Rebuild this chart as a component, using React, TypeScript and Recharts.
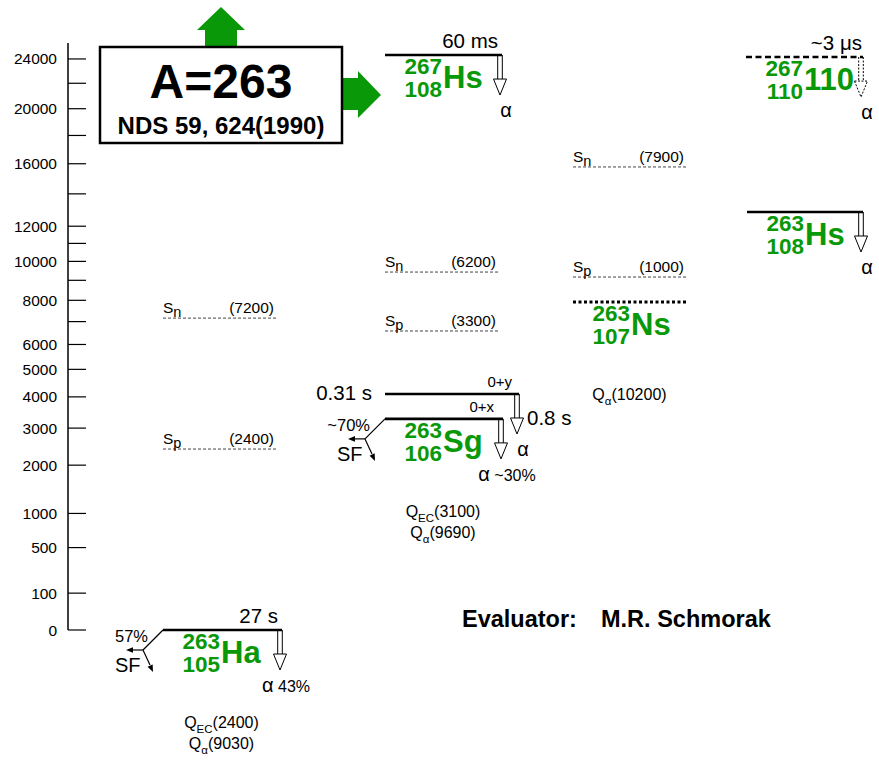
import React from "react";
import { ComposedChart, XAxis, YAxis, ReferenceLine, ReferenceDot } from "recharts";

const FONT = '"Liberation Sans", Arial, Helvetica, sans-serif';
const GREEN = "#089808";

// energy axis (keV), drawn on a sqrt scale
const Y_TICKS = [0, 100, 500, 1000, 2000, 3000, 4000, 5000, 6000, 7000, 8000, 9000, 10000, 11000, 12000, 14000, 16000, 18000, 20000, 22000, 24000];
const Y_LABELED = [0, 100, 500, 1000, 2000, 3000, 4000, 5000, 6000, 8000, 10000, 12000, 16000, 20000, 24000];

// levels
const LEVEL_IDS = ["Ha263", "Sg263x", "Sg263y", "Ns263", "Hs263", "Hs267", "X267"];
const LEVEL_ENERGY = [0, 3280, 4100, 7920, 12860, 24330, 24160];
const LEVEL_TAG = ["", "0+x", "0+y", "", "", "", ""];
const HALF_LIFE = ["27 s", "0.8 s", "0.31 s", "", "", "60 ms", "~3 μs"];

// nuclide labels
const NUC_LEVEL = ["Ha263", "Sg263x", "Ns263", "Hs263", "Hs267", "X267"];
const NUC_A = ["263", "263", "263", "263", "267", "267"];
const NUC_Z = ["105", "106", "107", "108", "108", "110"];
const NUC_SYMBOL = ["Ha", "Sg", "Ns", "Hs", "Hs", "110"];

// separation energies: label value and where the line sits
const SEP_LEVEL = ["Ha263", "Ha263", "Sg263x", "Sg263x", "Ns263", "Ns263"];
const SEP_KIND = ["n", "p", "n", "p", "n", "p"];
const SEP_VALUE = [7200, 2400, 6200, 3300, 7900, 1000];
const SEP_ENERGY = [7160, 2410, 9430, 6580, 15780, 9170];

// Q values
const Q_LEVEL = ["Ha263", "Ha263", "Sg263x", "Sg263x", "Ns263"];
const Q_KIND = ["EC", "α", "EC", "α", "α"];
const Q_VALUE = [2400, 9030, 3100, 9690, 10200];

// decay branches
const ALPHA_LEVEL = ["Ha263", "Sg263x", "Sg263y", "Hs263", "Hs267", "X267"];
const ALPHA_BRANCH = ["43%", "~30%", "", "", "", ""];
const SF_LEVEL = ["Ha263", "Sg263x"];
const SF_BRANCH = ["57%", "~70%"];

// layout (x in plot units) and looks
const LEVEL_SPAN: Record<string, [number, number]> = {
  Ha263: [163, 282],
  Sg263x: [385, 503],
  Sg263y: [385, 519],
  Ns263: [573, 688],
  Hs263: [747, 863],
  Hs267: [385, 502],
  X267: [746, 863],
};
const SEP_SPAN: Record<string, [number, number]> = {
  Ha263: [163, 278],
  Sg263x: [385, 500],
  Ns263: [573, 688],
};
const LEVEL_LOOK: Record<string, { w: number; dash?: string }> = {
  Ns263: { w: 3, dash: "3 2.5" },
  X267: { w: 2.6, dash: "6 3.5" },
};
const TAG_SHIFT: Record<string, number> = { Sg263x: -9, Sg263y: -7 };

const energyOf = (id: string) => LEVEL_ENERGY[LEVEL_IDS.indexOf(id)];
const spanOf = (id: string) => LEVEL_SPAN[id];

const note = (key: string, x: number, y: number, draw: (cx: number, cy: number) => React.ReactElement) => (
  <ReferenceDot
    key={key}
    x={x}
    y={y}
    r={0}
    ifOverflow="visible"
    isFront
    shape={(p: any) => draw(p.cx, p.cy)}
  />
);

const txt = (x: number, y: number, s: React.ReactNode, size: number, anchor: string = "start", weight: string = "normal", fill = "#000") => (
  <text x={x} y={y} fontSize={size} fontFamily={FONT} textAnchor={anchor as any} fontWeight={weight} fill={fill}>
    {s}
  </text>
);

function head(fx: number, fy: number, tx: number, ty: number, len = 7, hw = 2.8) {
  const d = Math.hypot(tx - fx, ty - fy);
  const ux = (tx - fx) / d;
  const uy = (ty - fy) / d;
  const bx = tx - ux * len;
  const by = ty - uy * len;
  return `${tx},${ty} ${bx - uy * hw},${by + ux * hw} ${bx + uy * hw},${by - ux * hw}`;
}

function alphaArrow(cx: number, cy: number, dotted: boolean) {
  const c = cx - 2;
  const top = cy + 24;
  const tip = cy + 40;
  const dash = dotted ? "2 1.5" : undefined;
  return (
    <g stroke="#000" strokeWidth={1} strokeDasharray={dash}>
      <polygon points={`${c - 6.5},${top} ${c + 6.5},${top} ${c},${tip}`} fill="#fff" />
      <line x1={c - 2.3} y1={cy} x2={c - 2.3} y2={top} />
      <line x1={c + 2.3} y1={cy} x2={c + 2.3} y2={top} />
    </g>
  );
}

function sfBranch(cx: number, cy: number) {
  const kx = cx - 20;
  const ky = cy + 20;
  return (
    <g stroke="#000" strokeWidth={1.2}>
      <line x1={cx} y1={cy} x2={kx} y2={ky} />
      <line x1={kx} y1={ky} x2={kx - 11} y2={ky} />
      <polygon points={head(kx, ky, kx - 17, ky)} fill="#000" stroke="none" />
      <line x1={kx} y1={ky} x2={kx + 7} y2={ky + 15} />
      <polygon points={head(kx, ky, kx + 10, ky + 22)} fill="#000" stroke="none" />
    </g>
  );
}

const renderTick = (props: any) => {
  const { x, y, payload } = props;
  const v = payload.value;
  return (
    <g>
      <line x1={x} x2={x + 18} y1={y} y2={y} stroke="#000" strokeWidth={1.2} />
      {Y_LABELED.includes(v) && txt(x - 11, y + 5.5, String(v), 15.5, "end")}
    </g>
  );
};

export default function App() {
  return (
    <div style={{ position: "absolute", left: 0, top: 0, width: 879, height: 762, background: "#fff" }}>
      <ComposedChart width={879} height={762} data={[]} margin={{ top: 43, right: 0, bottom: 132, left: 0 }}>
        <XAxis type="number" dataKey="x" domain={[68, 879]} allowDataOverflow hide />
        <YAxis
          type="number"
          scale="sqrt"
          domain={[0, 25360]}
          allowDataOverflow
          ticks={Y_TICKS}
          interval={0}
          width={68}
          tickSize={0}
          tickMargin={0}
          tickLine={false}
          axisLine={{ stroke: "#000", strokeWidth: 1.5 }}
          tick={renderTick}
        />

        {/* separation energy lines */}
        {SEP_LEVEL.map((id, i) => (
          <ReferenceLine
            key={`sep-${i}`}
            segment={[
              { x: SEP_SPAN[id][0], y: SEP_ENERGY[i] },
              { x: SEP_SPAN[id][1], y: SEP_ENERGY[i] },
            ]}
            stroke="#444"
            strokeWidth={1}
            strokeDasharray="3 2"
            ifOverflow="visible"
          />
        ))}
        {SEP_LEVEL.map((id, i) =>
          note(`sepl-${i}`, SEP_SPAN[id][0], SEP_ENERGY[i], (cx, cy) => {
            const x1 = cx + (SEP_SPAN[id][1] - SEP_SPAN[id][0]);
            return (
              <g>
                <text x={cx} y={cy - 5} fontSize={15.5} fontFamily={FONT}>
                  S<tspan fontSize={14.5} dy={4}>{SEP_KIND[i]}</tspan>
                </text>
                {txt(x1 - 4, cy - 5, `(${SEP_VALUE[i]})`, 15.5, "end")}
              </g>
            );
          })
        )}

        {/* levels */}
        {LEVEL_IDS.map((id, i) => {
          const [x0, x1] = spanOf(id);
          const look = LEVEL_LOOK[id] || { w: 2.6 };
          return (
            <ReferenceLine
              key={`lev-${id}`}
              segment={[
                { x: x0, y: LEVEL_ENERGY[i] },
                { x: x1, y: LEVEL_ENERGY[i] },
              ]}
              stroke="#000"
              strokeWidth={look.w}
              strokeDasharray={look.dash}
              ifOverflow="visible"
            />
          );
        })}

        {/* alpha decays */}
        {ALPHA_LEVEL.map((id, i) =>
          note(`alpha-${id}`, spanOf(id)[1], energyOf(id), (cx, cy) => (
            <g>
              {alphaArrow(cx, cy, id === "X267")}
              <text x={cx + 4} y={cy + 62} textAnchor="middle" fontFamily={FONT} fontSize={20}>
                α{ALPHA_BRANCH[i] && <tspan fontSize={16}>{" " + ALPHA_BRANCH[i]}</tspan>}
              </text>
            </g>
          ))
        )}

        {/* spontaneous fission */}
        {SF_LEVEL.map((id, i) =>
          note(`sf-${id}`, spanOf(id)[0], energyOf(id), (cx, cy) => (
            <g>
              {sfBranch(cx, cy)}
              {txt(cx - 15, cy + 12, SF_BRANCH[i], 16.5, "end")}
              {txt(cx - 48, cy + 42, "SF", 20)}
            </g>
          ))
        )}

        {/* spin tags and half-lives */}
        {LEVEL_IDS.map((id, i) =>
          LEVEL_TAG[i]
            ? note(`tag-${id}`, spanOf(id)[1], LEVEL_ENERGY[i], (cx, cy) => txt(cx + (TAG_SHIFT[id] || 0), cy - 7, LEVEL_TAG[i], 15, "end"))
            : null
        )}
        {LEVEL_IDS.map((id, i) => {
          if (!HALF_LIFE[i]) return null;
          const [x0, x1] = spanOf(id);
          if (id === "Sg263y") return note(`hl-${id}`, x0, LEVEL_ENERGY[i], (cx, cy) => txt(cx - 13, cy + 6, HALF_LIFE[i], 20.5, "end"));
          if (id === "Sg263x") return note(`hl-${id}`, x1, LEVEL_ENERGY[i], (cx, cy) => txt(cx + 24, cy + 6, HALF_LIFE[i], 20.5));
          const shift = id === "X267" ? -1 : -4;
          return note(`hl-${id}`, x1, LEVEL_ENERGY[i], (cx, cy) => txt(cx + shift, cy - 7, HALF_LIFE[i], 20.5, "end"));
        })}

        {/* nuclide names */}
        {NUC_LEVEL.map((id, i) =>
          note(`nuc-${i}`, spanOf(id)[0], energyOf(id), (cx, cy) => (
            <g>
              {txt(cx + 57, cy + 19, NUC_A[i], 22.5, "end", "bold", GREEN)}
              {txt(cx + 57, cy + 42, NUC_Z[i], 22.5, "end", "bold", GREEN)}
              {txt(cx + 58, cy + 33, NUC_SYMBOL[i], 31, "start", "bold", GREEN)}
            </g>
          ))
        )}

        {/* Q values */}
        {Q_LEVEL.map((id, i) => {
          const [x0, x1] = spanOf(id);
          const row = Q_LEVEL.slice(0, i).filter((q) => q === id).length;
          return note(`q-${i}`, (x0 + x1) / 2, energyOf(id), (cx, cy) => (
            <text x={cx - 1} y={cy + 98 + row * 21} textAnchor="middle" fontFamily={FONT} fontSize={16}>
              Q<tspan fontSize={11.5} dy={5}>{Q_KIND[i]}</tspan>
              <tspan dy={-5}>{`(${Q_VALUE[i]})`}</tspan>
            </text>
          ));
        })}
      </ComposedChart>

      <svg width={879} height={762} style={{ position: "absolute", left: 0, top: 0, pointerEvents: "none" }}>
        <polygon points="205,49 205,30 197,30 221,7 245,30 237,30 237,49" fill={GREEN} />
        <polygon points="340,78 358,78 358,71 381,95 358,118 358,110 340,110" fill={GREEN} />
        <rect x={100} y={47} width={242} height={96} fill="#fff" stroke="#000" strokeWidth={2.5} />
        <text x={221} y={98} textAnchor="middle" fontFamily={FONT} fontWeight="bold" fontSize={48}>A=263</text>
        <text x={221} y={134} textAnchor="middle" fontFamily={FONT} fontWeight="bold" fontSize={24}>NDS 59, 624(1990)</text>
        <text x={462} y={627} fontFamily={FONT} fontWeight="bold" fontSize={23.5}>Evaluator:</text>
        <text x={601} y={627} fontFamily={FONT} fontWeight="bold" fontSize={23.5}>M.R. Schmorak</text>
      </svg>
    </div>
  );
}
